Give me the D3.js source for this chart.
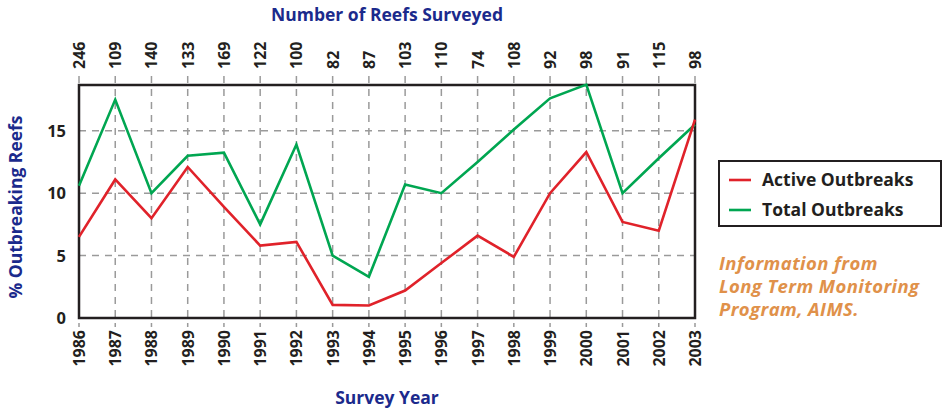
<!DOCTYPE html>
<html lang="en">
  <head>
    <meta charset="UTF-8" />
    <title>Reef Outbreaks</title>
    <script src="https://d3js.org/d3.v7.min.js"></script>
    <style>
      body { margin: 0; background: #fff; }
      text { font-family: "Open Sans", "Noto Sans", sans-serif; }
      .grid { stroke: #9a9a9a; stroke-width: 1.5px; stroke-dasharray: 7,6; }
    </style>
  </head>
  <body>
    <svg id="svg" width="947" height="411"></svg>
    <script>
      const years = [1986, 1987, 1988, 1989, 1990, 1991, 1992, 1993, 1994, 1995, 1996, 1997, 1998, 1999, 2000, 2001, 2002, 2003];
      const reefsSurveyed = [246, 109, 140, 133, 169, 122, 100, 82, 87, 103, 110, 74, 108, 92, 98, 91, 115, 98];
      const activeOutbreaks = [6.5, 11.1, 8.0, 12.1, 8.9, 5.8, 6.1, 1.05, 1.0, 2.2, 4.4, 6.6, 4.9, 10.0, 13.3, 7.7, 7.0, 15.9];
      const totalOutbreaks = [10.6, 17.5, 10.0, 13.0, 13.25, 7.5, 13.9, 5.0, 3.3, 10.7, 10.0, 12.5, 15.1, 17.6, 18.7, 10.0, 12.8, 15.5];
      const yTicks = [0, 5, 10, 15];

      const svg = d3.select("#svg");
      const plotLeft = 79, plotRight = 695, plotTop = 85, plotBottom = 318;

      const x = d3.scaleLinear().domain([1986, 2003]).range([plotLeft, plotRight]);
      const y = d3.scaleLinear().domain([0, 18.67]).range([plotBottom, plotTop]);

      // grid lines (extend past the frame as tick marks)
      svg.append("g").selectAll("line").data(years).enter().append("line")
        .attr("class", "grid")
        .attr("x1", d => x(d)).attr("x2", d => x(d))
        .attr("y1", plotTop - 9).attr("y2", plotBottom + 9);

      svg.append("g").selectAll("line").data(yTicks.slice(1)).enter().append("line")
        .attr("class", "grid")
        .attr("x1", plotLeft).attr("x2", plotRight)
        .attr("y1", d => y(d)).attr("y2", d => y(d));

      // frame
      svg.append("rect")
        .attr("x", plotLeft).attr("y", plotTop)
        .attr("width", plotRight - plotLeft).attr("height", plotBottom - plotTop)
        .attr("fill", "none").attr("stroke", "#231f20").attr("stroke-width", 2.5);

      // y labels
      svg.append("g").selectAll("text").data(yTicks).enter().append("text")
        .attr("x", 66).attr("y", d => y(d) + 6)
        .attr("text-anchor", "end")
        .attr("font-size", 16.5).attr("font-weight", "bold").attr("fill", "#231f20")
        .text(d => d);

      // bottom year labels
      svg.append("g").selectAll("text").data(years).enter().append("text")
        .attr("transform", d => `translate(${x(d) + 6},${plotBottom + 12}) rotate(-90)`)
        .attr("text-anchor", "end")
        .attr("font-size", 16).attr("font-weight", "bold").attr("fill", "#231f20")
        .text(d => d);

      // top reef counts
      svg.append("g").selectAll("text").data(years).enter().append("text")
        .attr("transform", d => `translate(${x(d) + 6},${plotTop - 16}) rotate(-90)`)
        .attr("text-anchor", "start")
        .attr("font-size", 16).attr("font-weight", "bold").attr("fill", "#231f20")
        .text((d, i) => reefsSurveyed[i]);

      // axis titles
      svg.append("text")
        .attr("x", 387).attr("y", 21).attr("text-anchor", "middle")
        .attr("font-size", 17.5).attr("font-weight", "bold").attr("fill", "#1b2a8c")
        .text("Number of Reefs Surveyed");

      svg.append("text")
        .attr("x", 387).attr("y", 404).attr("text-anchor", "middle")
        .attr("font-size", 17.5).attr("font-weight", "bold").attr("fill", "#1b2a8c")
        .text("Survey Year");

      svg.append("text")
        .attr("transform", "translate(22,207) rotate(-90)")
        .attr("text-anchor", "middle")
        .attr("font-size", 17.5).attr("font-weight", "bold").attr("fill", "#1b2a8c")
        .text("% Outbreaking Reefs");

      // lines
      const line = d3.line().x((d, i) => x(years[i])).y(d => y(d));

      svg.append("path").datum(totalOutbreaks)
        .attr("d", line).attr("fill", "none")
        .attr("stroke", "#00a651").attr("stroke-width", 2.6);

      svg.append("path").datum(activeOutbreaks)
        .attr("d", line).attr("fill", "none")
        .attr("stroke", "#e0222a").attr("stroke-width", 2.6);

      // legend
      const legend = svg.append("g");
      legend.append("rect")
        .attr("x", 719).attr("y", 161).attr("width", 222).attr("height", 65)
        .attr("fill", "#fff").attr("stroke", "#231f20").attr("stroke-width", 2);
      const legendItems = [
        { label: "Active Outbreaks", color: "#e0222a" },
        { label: "Total Outbreaks", color: "#00a651" }
      ];
      legendItems.forEach((item, i) => {
        const ly = 180 + i * 30;
        legend.append("line")
          .attr("x1", 729).attr("x2", 751).attr("y1", ly).attr("y2", ly)
          .attr("stroke", item.color).attr("stroke-width", 2.6);
        legend.append("text")
          .attr("x", 762).attr("y", ly + 6)
          .attr("font-size", 17.5).attr("font-weight", "bold").attr("fill", "#231f20")
          .text(item.label);
      });

      // source note
      const note = ["Information from", "Long Term Monitoring", "Program, AIMS."];
      svg.append("g").selectAll("text").data(note).enter().append("text")
        .attr("x", 719).attr("y", (d, i) => 270 + i * 23)
        .attr("font-size", 18.5).attr("font-weight", "bold").attr("font-style", "italic")
        .attr("letter-spacing", 0.4)
        .attr("fill", "#e0914a")
        .text(d => d);
    </script>
  </body>
</html>
